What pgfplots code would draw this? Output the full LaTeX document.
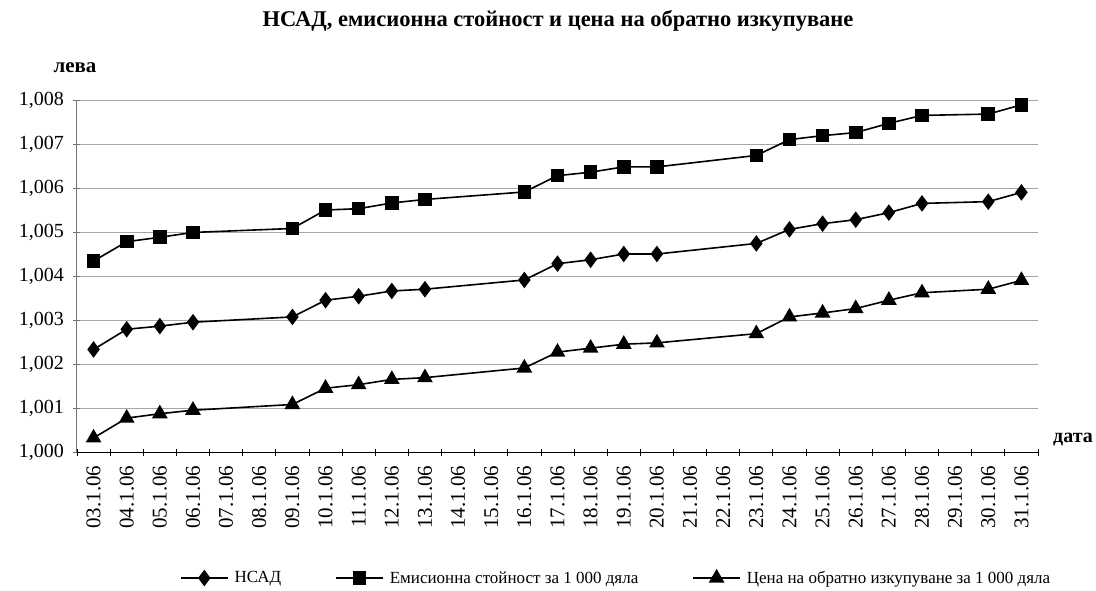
\documentclass[border=0pt]{standalone}
\usepackage{fontspec}
\setmainfont{Liberation Serif}
\usepackage{pgfplots}
\pgfplotsset{compat=1.18}
\usepackage{pgfplotstable}

\pgfplotstableread{
x y
0 1.00233
1 1.00279
2 1.00286
3 1.00295
6 1.00307
7 1.00345
8 1.00354
9 1.00366
10 1.00370
13 1.00391
14 1.00428
15 1.00437
16 1.00450
17 1.00450
20 1.00474
21 1.00506
22 1.00519
23 1.00528
24 1.00544
25 1.00565
27 1.00569
28 1.00590
}\nsad

\pgfplotstableread{
x y
0 1.00434
1 1.00478
2 1.00488
3 1.00499
6 1.00508
7 1.00550
8 1.00553
9 1.00566
10 1.00574
13 1.00591
14 1.00628
15 1.00636
16 1.00648
17 1.00648
20 1.00674
21 1.00710
22 1.00719
23 1.00726
24 1.00747
25 1.00765
27 1.00768
28 1.00789
}\emis

\pgfplotstableread{
x y
0 1.00032
1 1.00077
2 1.00087
3 1.00095
6 1.00108
7 1.00145
8 1.00153
9 1.00165
10 1.00169
13 1.00191
14 1.00227
15 1.00236
16 1.00245
17 1.00248
20 1.00269
21 1.00307
22 1.00316
23 1.00326
24 1.00345
25 1.00362
27 1.00370
28 1.00390
}\obr

\begin{document}
\begin{tikzpicture}
\useasboundingbox (-77pt,-138pt) rectangle (1019pt,452pt);
\begin{axis}[
  at={(0,0)}, anchor=south west,
  scale only axis,
  width=961pt, height=352pt,
  xmin=-0.5, xmax=28.5,
  ymin=1.000, ymax=1.008,
  ytick={1.000,1.001,1.002,1.003,1.004,1.005,1.006,1.007,1.008},
  xtick={0,...,28},
  xticklabels={03.1.06,04.1.06,05.1.06,06.1.06,07.1.06,08.1.06,09.1.06,10.1.06,11.1.06,12.1.06,13.1.06,14.1.06,15.1.06,16.1.06,17.1.06,18.1.06,19.1.06,20.1.06,21.1.06,22.1.06,23.1.06,24.1.06,25.1.06,26.1.06,27.1.06,28.1.06,29.1.06,30.1.06,31.1.06},
  minor xtick={-0.5,0.5,...,28.5},
  major x tick style={draw=none},
  minor x tick style={black, line width=0.8pt},
  minor tick length=7pt,
  y tick style={gray!90!black, line width=0.8pt},
  major tick length=7pt,
  tick align=outside,
  axis x line=bottom, axis y line=left,
  x axis line style={black, line width=1pt, -},
  y axis line style={gray!90!black, line width=1pt, -},
  ymajorgrids,
  grid style={gray!70, line width=0.9pt},
  xticklabel shift=10pt,
  x tick label style={rotate=90, anchor=east, font=\fontsize{21}{22}\selectfont, inner sep=0pt},
  yticklabel shift=6pt,
  y tick label style={font=\fontsize{20}{22}\selectfont, /pgf/number format/.cd, fixed, fixed zerofill, precision=3, use comma, assume math mode=true},
  clip=false,
  legend columns=3,
  legend style={draw=none, fill=none, at={(0.561,-0.358)}, anchor=center,
    font=\fontsize{17}{20}\selectfont,
    /tikz/every odd column/.append style={column sep=4pt},
    /tikz/every even column/.append style={column sep=52pt},
    cells={anchor=west}},
  legend image code/.code={\draw[mark repeat=2,mark phase=2,#1] plot coordinates {(0pt,0pt) (23.5pt,0pt) (47pt,0pt)};},
]
\addplot[black, line width=1.6pt, mark=diamond*, mark size=7pt, mark options={solid}] table[x=x,y=y] {\nsad};
\addlegendentry{НСАД}
\addplot[black, line width=1.6pt, mark=square*, mark size=6pt, mark options={solid}] table[x=x,y=y] {\emis};
\addlegendentry{Емисионна стойност за 1 000 дяла}
\addplot[black, line width=1.6pt, mark=triangle*, mark size=7.5pt, mark options={solid}] table[x=x,y=y] {\obr};
\addlegendentry{Цена на обратно изкупуване за 1 000 дяла}
\end{axis}
\node[font=\bfseries\fontsize{22.5}{26}\selectfont] at (481pt,431pt) {НСАД, емисионна стойност и цена на обратно изкупуване};
\node[font=\bfseries\fontsize{21}{24}\selectfont] at (-2pt,384pt) {лева};
\node[font=\bfseries\fontsize{20}{24}\selectfont] at (996pt,12pt) {дата};
\end{tikzpicture}
\end{document}
